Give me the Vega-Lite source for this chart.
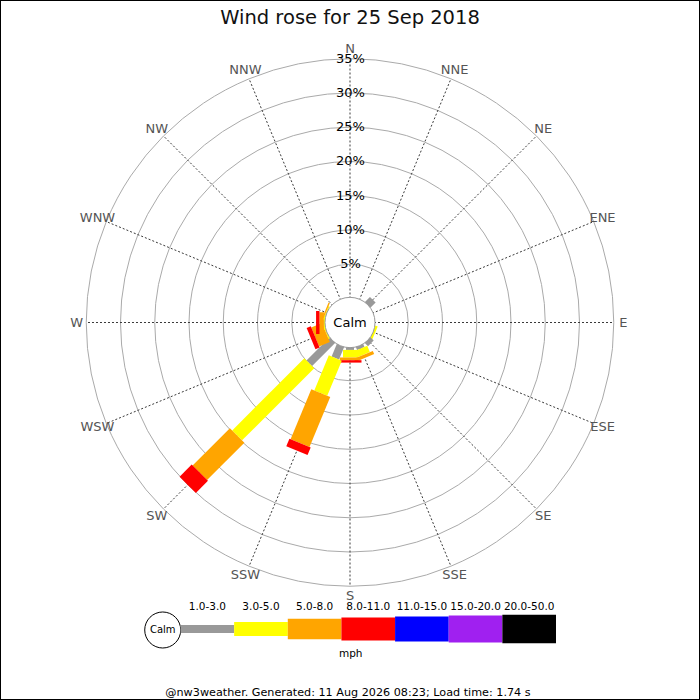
{
  "$schema": "https://vega.github.io/schema/vega-lite/v6.json",
  "width": 700,
  "height": 700,
  "padding": 0,
  "autosize": {"type": "none"},
  "background": "white",
  "title": {
    "text": "Wind rose for 25 Sep 2018",
    "font": "DejaVu Sans",
    "fontSize": 19.5,
    "fontWeight": "normal",
    "color": "#111111",
    "anchor": "middle",
    "frame": "group",
    "offset": -28
  },
  "config": {
    "view": {"stroke": "black", "strokeWidth": 2},
    "text": {"font": "DejaVu Sans"}
  },
  "datasets": {
    "rings": [{"p": 5}, {"p": 10}, {"p": 15}, {"p": 20}, {"p": 25}, {"p": 30}, {"p": 35}],
    "dirs": [
      {"name": "N", "deg": 0}, {"name": "NNE", "deg": 22.5}, {"name": "NE", "deg": 45}, {"name": "ENE", "deg": 67.5},
      {"name": "E", "deg": 90}, {"name": "ESE", "deg": 112.5}, {"name": "SE", "deg": 135}, {"name": "SSE", "deg": 157.5},
      {"name": "S", "deg": 180}, {"name": "SSW", "deg": 202.5}, {"name": "SW", "deg": 225}, {"name": "WSW", "deg": 247.5},
      {"name": "W", "deg": 270}, {"name": "WNW", "deg": 292.5}, {"name": "NW", "deg": 315}, {"name": "NNW", "deg": 337.5}
    ],
    "rose": [
      {"dir": 45, "speed": "1.0-3.0", "pct": 1.2},
      {"dir": 112.5, "speed": "1.0-3.0", "pct": 0.1},
      {"dir": 112.5, "speed": "3.0-5.0", "pct": 0.35},
      {"dir": 135, "speed": "1.0-3.0", "pct": 0.8},
      {"dir": 157.5, "speed": "1.0-3.0", "pct": 0.6},
      {"dir": 157.5, "speed": "3.0-5.0", "pct": 1.0},
      {"dir": 157.5, "speed": "5.0-8.0", "pct": 0.5},
      {"dir": 180, "speed": "1.0-3.0", "pct": 0.5},
      {"dir": 180, "speed": "3.0-5.0", "pct": 1.1},
      {"dir": 180, "speed": "5.0-8.0", "pct": 0.4},
      {"dir": 180, "speed": "8.0-11.0", "pct": 0.35},
      {"dir": 202.5, "speed": "1.0-3.0", "pct": 2.1},
      {"dir": 202.5, "speed": "3.0-5.0", "pct": 5.55},
      {"dir": 202.5, "speed": "5.0-8.0", "pct": 7.9},
      {"dir": 202.5, "speed": "8.0-11.0", "pct": 1.2},
      {"dir": 225, "speed": "1.0-3.0", "pct": 4.9},
      {"dir": 225, "speed": "3.0-5.0", "pct": 14.9},
      {"dir": 225, "speed": "5.0-8.0", "pct": 7.7},
      {"dir": 225, "speed": "8.0-11.0", "pct": 2.5},
      {"dir": 247.5, "speed": "1.0-3.0", "pct": 0.1},
      {"dir": 247.5, "speed": "3.0-5.0", "pct": 0.2},
      {"dir": 247.5, "speed": "5.0-8.0", "pct": 1.7},
      {"dir": 247.5, "speed": "8.0-11.0", "pct": 0.65},
      {"dir": 270, "speed": "1.0-3.0", "pct": 0.1},
      {"dir": 270, "speed": "3.0-5.0", "pct": 0.2},
      {"dir": 270, "speed": "5.0-8.0", "pct": 0.65},
      {"dir": 270, "speed": "8.0-11.0", "pct": 0.5},
      {"dir": 292.5, "speed": "1.0-3.0", "pct": 0.15},
      {"dir": 292.5, "speed": "3.0-5.0", "pct": 0.15},
      {"dir": 292.5, "speed": "5.0-8.0", "pct": 0.2}
    ],
    "classes": [
      {"speed": "1.0-3.0"}, {"speed": "3.0-5.0"}, {"speed": "5.0-8.0"}, {"speed": "8.0-11.0"},
      {"speed": "11.0-15.0"}, {"speed": "15.0-20.0"}, {"speed": "20.0-50.0"}
    ],
    "one": [{"k": 1}]
  },
  "layer": [
    {
      "layer": [
        {
          "data": {"name": "rings"},
          "transform": [{"calculate": "3.504 + datum.p", "as": "ru"}],
          "mark": {"type": "point", "shape": "circle", "filled": false, "stroke": "#aaaaaa", "strokeWidth": 1, "opacity": 1},
          "encoding": {
            "x": {"datum": 0, "type": "quantitative", "scale": {"domain": [-51.095, 51.095], "nice": false, "zero": false}, "axis": null},
            "y": {"datum": 0, "type": "quantitative", "scale": {"domain": [-55.109, 47.08], "nice": false, "zero": false}, "axis": null},
            "size": {"field": "ru", "type": "quantitative", "scale": {"type": "pow", "exponent": 2, "domain": [0, 40], "range": [0, 300304]}, "legend": null}
          }
        },
        {
          "data": {"name": "dirs"},
          "transform": [
            {"calculate": "datum.deg * PI / 180", "as": "t"},
            {"calculate": "3.504 * sin(datum.t)", "as": "sx"},
            {"calculate": "3.504 * cos(datum.t)", "as": "sy"},
            {"calculate": "38.504 * sin(datum.t)", "as": "ex"},
            {"calculate": "38.504 * cos(datum.t)", "as": "ey"}
          ],
          "mark": {"type": "rule", "color": "#3a3a3a", "strokeWidth": 1, "strokeDash": [2, 2]},
          "encoding": {
            "x": {"field": "sx", "type": "quantitative", "scale": {"domain": [-51.095, 51.095], "nice": false, "zero": false}, "axis": null},
            "y": {"field": "sy", "type": "quantitative", "scale": {"domain": [-55.109, 47.08], "nice": false, "zero": false}, "axis": null},
            "x2": {"field": "ex"},
            "y2": {"field": "ey"}
          }
        },
        {
          "data": {"name": "dirs"},
          "transform": [
            {"calculate": "datum.deg * PI / 180", "as": "t"},
            {"calculate": "39.9 * sin(datum.t)", "as": "lx"},
            {"calculate": "39.9 * cos(datum.t)", "as": "ly"}
          ],
          "mark": {"type": "text", "fontSize": 13, "color": "#555555", "align": "center", "baseline": "middle"},
          "encoding": {
            "x": {"field": "lx", "type": "quantitative", "scale": {"domain": [-51.095, 51.095], "nice": false, "zero": false}, "axis": null},
            "y": {"field": "ly", "type": "quantitative", "scale": {"domain": [-55.109, 47.08], "nice": false, "zero": false}, "axis": null},
            "text": {"field": "name"}
          }
        },
        {
          "data": {"name": "rose"},
          "transform": [
            {"calculate": "parseFloat(datum.speed)", "as": "lo"},
            {"stack": "pct", "groupby": ["dir"], "sort": [{"field": "lo", "order": "ascending"}], "as": ["c0", "c1"]},
            {"calculate": "datum.c0 == 0 ? 0 : 3.504 + datum.c0", "as": "ra"},
            {"calculate": "3.504 + datum.c1", "as": "rb"},
            {"calculate": "datum.dir * PI / 180", "as": "t"},
            {"calculate": "datum.ra * sin(datum.t)", "as": "bx"},
            {"calculate": "datum.ra * cos(datum.t)", "as": "by"},
            {"calculate": "datum.rb * sin(datum.t)", "as": "bx2"},
            {"calculate": "datum.rb * cos(datum.t)", "as": "by2"}
          ],
          "mark": {"type": "rule", "strokeCap": "butt", "opacity": 1},
          "encoding": {
            "x": {"field": "bx", "type": "quantitative", "scale": {"domain": [-51.095, 51.095], "nice": false, "zero": false}, "axis": null},
            "y": {"field": "by", "type": "quantitative", "scale": {"domain": [-55.109, 47.08], "nice": false, "zero": false}, "axis": null},
            "x2": {"field": "bx2"},
            "y2": {"field": "by2"},
            "color": {
              "field": "speed", "type": "nominal", "legend": null,
              "scale": {
                "domain": ["1.0-3.0", "3.0-5.0", "5.0-8.0", "8.0-11.0", "11.0-15.0", "15.0-20.0", "20.0-50.0"],
                "range": ["#999999", "#ffff00", "#ffa500", "#ff0000", "#0000ff", "#a020f0", "#000000"]
              }
            },
            "strokeWidth": {
              "field": "speed", "type": "nominal", "legend": null,
              "scale": {
                "type": "ordinal",
                "domain": ["1.0-3.0", "3.0-5.0", "5.0-8.0", "8.0-11.0", "11.0-15.0", "15.0-20.0", "20.0-50.0"],
                "range": [8, 14, 20.5, 23, 25, 27, 28.5]
              }
            }
          }
        },
        {
          "data": {"name": "one"},
          "mark": {"type": "point", "shape": "circle", "filled": true, "fill": "white", "stroke": "#999999", "strokeWidth": 1, "opacity": 1},
          "encoding": {
            "x": {"datum": 0, "type": "quantitative", "scale": {"domain": [-51.095, 51.095], "nice": false, "zero": false}, "axis": null},
            "y": {"datum": 0, "type": "quantitative", "scale": {"domain": [-55.109, 47.08], "nice": false, "zero": false}, "axis": null},
            "size": {"datum": 3.65, "type": "quantitative", "scale": {"type": "pow", "exponent": 2, "domain": [0, 40], "range": [0, 300304]}, "legend": null}
          }
        },
        {
          "data": {"name": "one"},
          "mark": {"type": "text", "fontSize": 13, "color": "black", "align": "center", "baseline": "middle"},
          "encoding": {
            "x": {"datum": 0, "type": "quantitative", "scale": {"domain": [-51.095, 51.095], "nice": false, "zero": false}, "axis": null},
            "y": {"datum": 0, "type": "quantitative", "scale": {"domain": [-55.109, 47.08], "nice": false, "zero": false}, "axis": null},
            "text": {"value": "Calm"}
          }
        },
        {
          "data": {"name": "rings"},
          "transform": [
            {"calculate": "3.504 + datum.p", "as": "ru"},
            {"calculate": "datum.p + '%'", "as": "lab"}
          ],
          "mark": {"type": "text", "fontSize": 13, "color": "black", "align": "center", "baseline": "middle"},
          "encoding": {
            "x": {"datum": 0.07, "type": "quantitative", "scale": {"domain": [-51.095, 51.095], "nice": false, "zero": false}, "axis": null},
            "y": {"field": "ru", "type": "quantitative", "scale": {"domain": [-55.109, 47.08], "nice": false, "zero": false}, "axis": null},
            "text": {"field": "lab"}
          }
        },
        {
          "data": {"name": "one"},
          "mark": {"type": "point", "shape": "circle", "filled": true, "fill": "white", "stroke": "black", "strokeWidth": 1, "opacity": 1},
          "encoding": {
            "x": {"datum": -27.34, "type": "quantitative", "scale": {"domain": [-51.095, 51.095], "nice": false, "zero": false}, "axis": null},
            "y": {"datum": -44.89, "type": "quantitative", "scale": {"domain": [-55.109, 47.08], "nice": false, "zero": false}, "axis": null},
            "size": {"datum": 2.628, "type": "quantitative", "scale": {"type": "pow", "exponent": 2, "domain": [0, 40], "range": [0, 300304]}, "legend": null}
          }
        },
        {
          "data": {"name": "one"},
          "mark": {"type": "text", "fontSize": 10, "color": "black", "align": "center", "baseline": "middle"},
          "encoding": {
            "x": {"datum": -27.34, "type": "quantitative", "scale": {"domain": [-51.095, 51.095], "nice": false, "zero": false}, "axis": null},
            "y": {"datum": -44.89, "type": "quantitative", "scale": {"domain": [-55.109, 47.08], "nice": false, "zero": false}, "axis": null},
            "text": {"value": "Calm"}
          }
        },
        {
          "data": {"name": "one"},
          "mark": {"type": "text", "fontSize": 10.5, "color": "black", "align": "center", "baseline": "middle"},
          "encoding": {
            "x": {"datum": 0.1, "type": "quantitative", "scale": {"domain": [-51.095, 51.095], "nice": false, "zero": false}, "axis": null},
            "y": {"datum": -48.39, "type": "quantitative", "scale": {"domain": [-55.109, 47.08], "nice": false, "zero": false}, "axis": null},
            "text": {"value": "mph"}
          }
        },
        {
          "data": {"name": "one"},
          "mark": {"type": "text", "fontSize": 11.2, "color": "black", "align": "center", "baseline": "middle"},
          "encoding": {
            "x": {"datum": -0.3, "type": "quantitative", "scale": {"domain": [-51.095, 51.095], "nice": false, "zero": false}, "axis": null},
            "y": {"datum": -54.04, "type": "quantitative", "scale": {"domain": [-55.109, 47.08], "nice": false, "zero": false}, "axis": null},
            "text": {"value": "@nw3weather. Generated: 11 Aug 2026 08:23; Load time: 1.74 s"}
          }
        }
      ]
    },
    {
      "data": {"name": "classes"},
      "transform": [
        {"window": [{"op": "row_number", "as": "n"}]},
        {"calculate": "datum.n - 1", "as": "n0"},
        {"calculate": "datum.n - 0.5", "as": "nm"}
      ],
      "layer": [
        {
          "mark": {"type": "rule", "strokeCap": "butt", "opacity": 1},
          "encoding": {
            "x": {"field": "n0", "type": "quantitative", "scale": {"domain": [0, 7], "range": [180.5, 556], "nice": false, "zero": false}, "axis": null},
            "x2": {"field": "n"},
            "y": {"datum": -44.74, "type": "quantitative", "scale": {"domain": [-55.109, 47.08], "nice": false, "zero": false}, "axis": null},
            "color": {
              "field": "speed", "type": "nominal", "legend": null,
              "scale": {
                "domain": ["1.0-3.0", "3.0-5.0", "5.0-8.0", "8.0-11.0", "11.0-15.0", "15.0-20.0", "20.0-50.0"],
                "range": ["#999999", "#ffff00", "#ffa500", "#ff0000", "#0000ff", "#a020f0", "#000000"]
              }
            },
            "strokeWidth": {
              "field": "speed", "type": "nominal", "legend": null,
              "scale": {
                "type": "ordinal",
                "domain": ["1.0-3.0", "3.0-5.0", "5.0-8.0", "8.0-11.0", "11.0-15.0", "15.0-20.0", "20.0-50.0"],
                "range": [8, 14, 20.5, 23, 25, 27, 28.5]
              }
            }
          }
        },
        {
          "mark": {"type": "text", "fontSize": 10.5, "color": "black", "align": "center", "baseline": "middle"},
          "encoding": {
            "x": {"field": "nm", "type": "quantitative", "scale": {"domain": [0, 7], "range": [180.5, 556], "nice": false, "zero": false}, "axis": null},
            "y": {"datum": -41.53, "type": "quantitative", "scale": {"domain": [-55.109, 47.08], "nice": false, "zero": false}, "axis": null},
            "text": {"field": "speed"}
          }
        }
      ]
    }
  ],
  "resolve": {"scale": {"x": "independent"}}
}
